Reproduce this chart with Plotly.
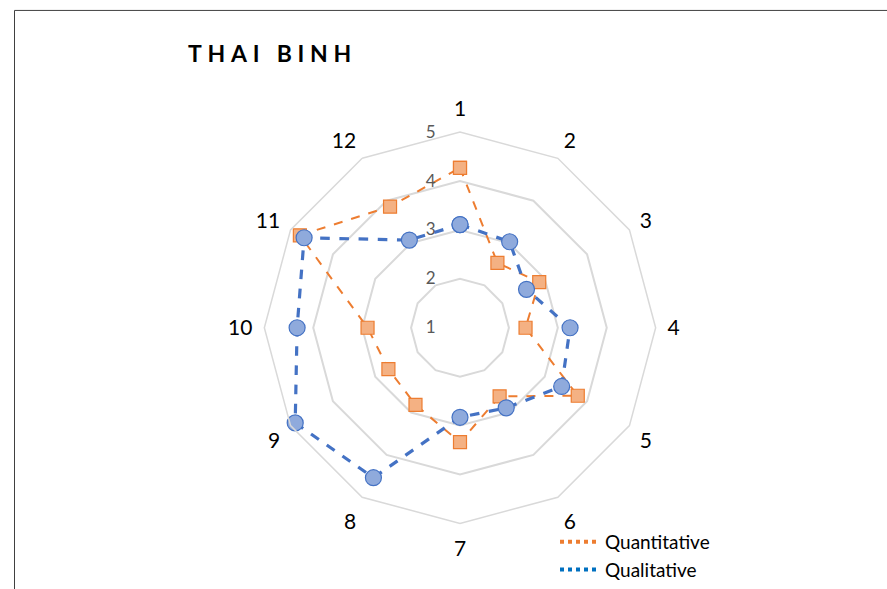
import plotly.graph_objects as go

categories = ["1", "2", "3", "4", "5", "6", "7", "8", "9", "10", "11", "12"]
quantitative = [4.27, 2.53, 2.87, 2.34, 3.78, 2.62, 3.34, 2.82, 2.69, 2.89, 4.78, 3.86]
qualitative = [3.11, 3.03, 2.57, 3.25, 3.40, 2.89, 2.83, 4.54, 4.89, 4.33, 4.68, 3.07]
radial_ticks = [1, 2, 3, 4, 5]
title_text = "THAI BINH"

W, H = 887, 589
cx, cy, R = 460, 330, 197

def closed(v):
    return list(v) + [v[0]]

fig = go.Figure()

fig.add_trace(go.Scatterpolar(
    r=closed(quantitative), theta=closed(categories), mode="lines+markers",
    line=dict(color="#ED7D31", width=2, dash="dash"),
    marker=dict(symbol="square", size=13, color="#F4B183", line=dict(color="#ED7D31", width=1.2)),
    showlegend=False, name="Quantitative"))
fig.add_trace(go.Scatterpolar(
    r=closed(qualitative), theta=closed(categories), mode="lines+markers",
    line=dict(color="#4472C4", width=3.2, dash="dash"),
    marker=dict(symbol="circle", size=16, color="#8FAADC", line=dict(color="#4472C4", width=1.2)),
    showlegend=False, name="Qualitative"))
# legend entries (line only, dotted)
fig.add_trace(go.Scatterpolar(r=[None], theta=[categories[0]], mode="lines",
    line=dict(color="#ED7D31", width=4, dash="dot"), name="Quantitative"))
fig.add_trace(go.Scatterpolar(r=[None], theta=[categories[0]], mode="lines",
    line=dict(color="#0070C0", width=4, dash="dot"), name="Qualitative"))

fig.update_layout(
    width=W, height=H, margin=dict(l=0, r=0, t=0, b=0),
    paper_bgcolor="white", plot_bgcolor="white",
    font=dict(family="Lato", color="black"),
    polar=dict(
        domain=dict(x=[(cx - R) / W, (cx + R) / W], y=[(H - cy - R) / H, (H - cy + R) / H]),
        gridshape="linear", bgcolor="white",
        angularaxis=dict(rotation=90, direction="clockwise", showgrid=False,
                         showline=True, linecolor="#D9D9D9", linewidth=1.5,
                         ticks="outside", ticklen=7, tickcolor="rgba(0,0,0,0)",
                         tickfont=dict(size=21, color="black")),
        radialaxis=dict(range=[1, 5], tickvals=radial_ticks, angle=90, tickangle=90,
                        showline=False, gridcolor="#D9D9D9", gridwidth=1.5,
                        ticks="outside", ticklen=18, tickcolor="rgba(0,0,0,0)",
                        side="counterclockwise",
                        tickfont=dict(size=17, color="#595959")),
    ),
    legend=dict(x=555 / W, y=1 - 527 / H, xanchor="left", yanchor="top",
                font=dict(size=19), itemwidth=40, tracegroupgap=0, bgcolor="rgba(0,0,0,0)"),
    annotations=[dict(text="<b>" + "\u2009\u2009".join(title_text) + "</b>", x=186 / W, y=1 - 53 / H,
                      xref="paper", yref="paper", xanchor="left", yanchor="middle",
                      showarrow=False, font=dict(size=23, color="black"))],
    shapes=[dict(type="rect", xref="paper", yref="paper", x0=14.5 / W, x1=1.05,
                 y0=-0.05, y1=1 - 10.5 / H, line=dict(color="#404040", width=1))],
)

fig.write_html("out.html")
